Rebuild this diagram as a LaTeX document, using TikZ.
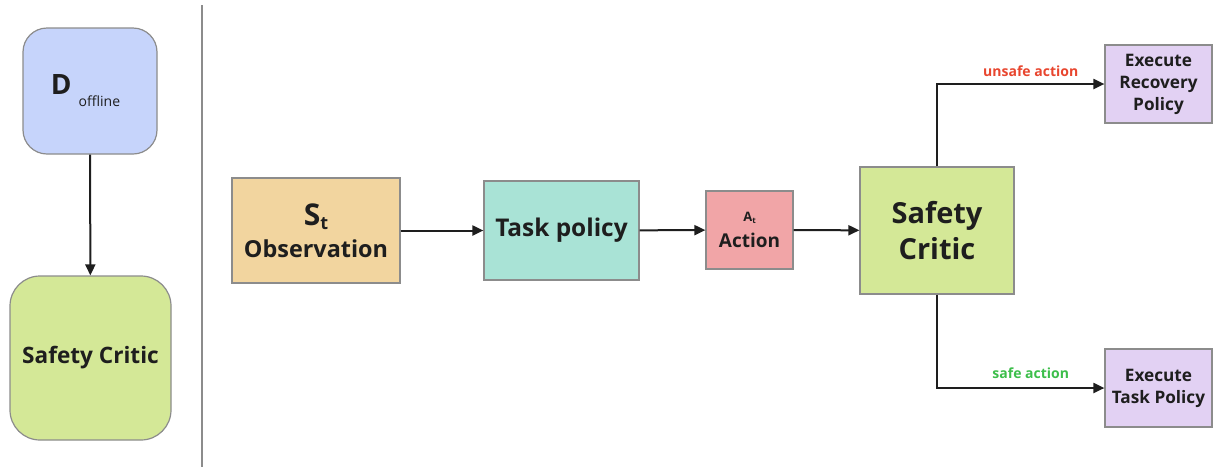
\documentclass[tikz,border=0pt]{standalone}
\usepackage{xcolor}
\usepackage{fontspec}
\setmainfont{Open Sans}
\usetikzlibrary{arrows.meta}

\definecolor{dataBlue}{HTML}{C6D4FB}
\definecolor{criticGreen}{HTML}{D4E897}
\definecolor{obsOrange}{HTML}{F2D59F}
\definecolor{policyTeal}{HTML}{A9E3D6}
\definecolor{actionRed}{HTML}{F1A5A7}
\definecolor{execPurple}{HTML}{E2D1F3}
\definecolor{edgeGray}{HTML}{8C8C8C}
\definecolor{inkDark}{HTML}{1E1E1E}
\definecolor{unsafeRed}{HTML}{E8462F}
\definecolor{safeGreen}{HTML}{3DBE4B}

\newcommand{\fsz}[1]{\fontsize{#1}{#1}\selectfont}

\begin{document}
\begin{tikzpicture}[x=0.5pt,y=-0.5pt,
	blk/.style={draw=edgeGray, line width=0.6pt, rectangle, inner sep=0pt, align=center, text=inkDark, font=\bfseries},
	link/.style={-{Triangle[length=5.5pt,width=5pt]}, line width=1pt, draw=inkDark}]
				\useasboundingbox (0,0) rectangle (1216,467);
				
				% offline training
				\node (data) [blk, fill=dataBlue, rounded corners=12pt, minimum width=67pt, minimum height=63pt] at (90,91)
					{\fsz{14}D\hspace{3.5pt}\raisebox{-6pt}{\mdseries\fsz{7}offline}\hspace{4.5pt}};
				\node (criticL) [blk, fill=criticGreen, rounded corners=15pt, minimum width=80.5pt, minimum height=82pt] at (90.5,358)
					{\fsz{11.3}Safety Critic};
				\draw[link] (data) -- (criticL);
				
				\draw[edgeGray, line width=0.8pt] (202,5) -- (202,467);
				
				% online loop
				\node (obs) [blk, fill=obsOrange, minimum width=84pt, minimum height=52.5pt] at (316,230.5)
					{\fsz{15}S\raisebox{-2pt}{\fsz{9}t}\\[4pt]\fsz{11.7}Observation};
				\node (policy) [blk, fill=policyTeal, minimum width=77.5pt, minimum height=49.5pt] at (561.5,230.5)
					{\fsz{12.2}Task policy};
				\node (action) [blk, fill=actionRed, minimum width=43.5pt, minimum height=39pt] at (749.5,230)
					{\fsz{6.5}A\raisebox{-1pt}{\fsz{4}t}\\[1pt]\fsz{9.5}Action};
				\node (critic) [blk, fill=criticGreen, minimum width=77pt, minimum height=63.5pt, font=\bfseries\fontsize{14.5}{18}\selectfont] at (937,230.5)
					{Safety\\Critic};
				\node (recovery) [blk, fill=execPurple, minimum width=53.5pt, minimum height=39pt, font=\bfseries\fontsize{8.6}{11}\selectfont] at (1158.5,84)
					{Execute\\Recovery\\Policy};
				\node (taskexec) [blk, fill=execPurple, minimum width=53.5pt, minimum height=39pt, font=\bfseries\fontsize{8.6}{11}\selectfont] at (1158.5,388)
					{Execute\\Task Policy};
				
				% Arrows
				\draw[link] (obs) -- (policy);
				\draw[link] (policy) -- (action);
				\draw[link] (action) -- (critic);
				\draw[link] (critic.north) |- node[pos=0.78, above=0pt, text=unsafeRed, font=\bfseries\fsz{7}] {unsafe action} (recovery.west);
				\draw[link] (critic.south) |- node[pos=0.78, above=1pt, text=safeGreen, font=\bfseries\fsz{7}] {safe action} (taskexec.west);
				
			\end{tikzpicture}
\end{document}
